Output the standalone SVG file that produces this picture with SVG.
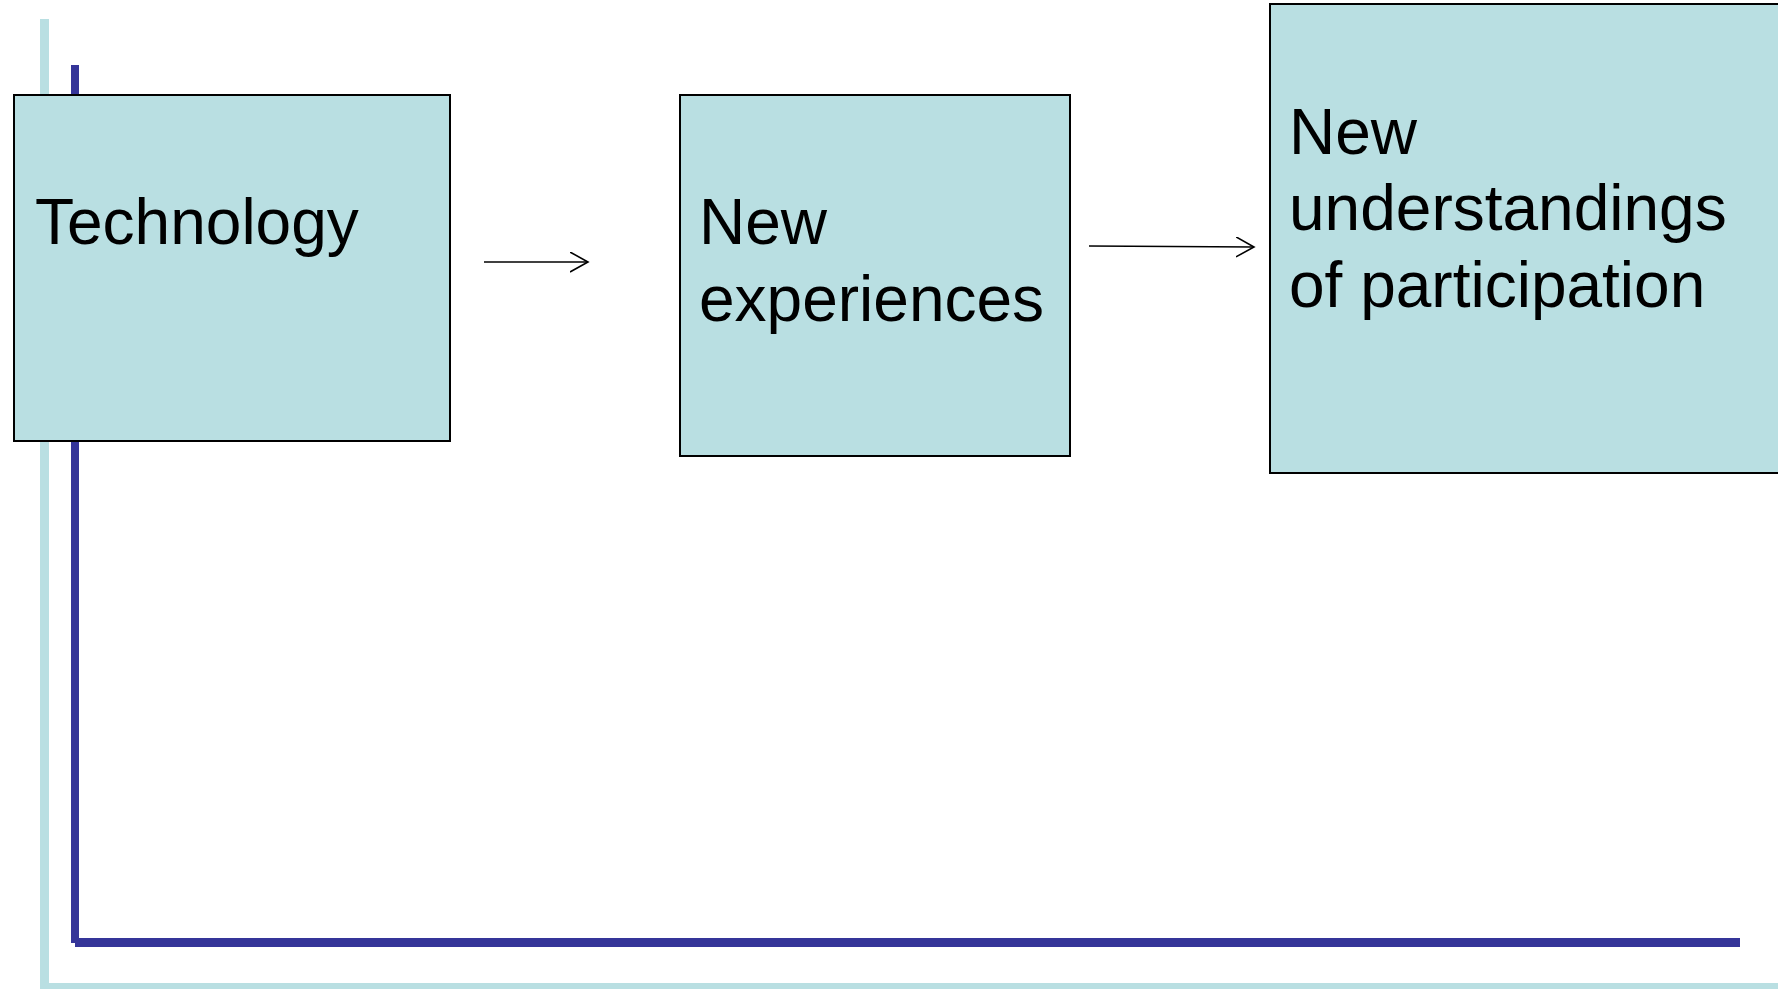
<svg xmlns="http://www.w3.org/2000/svg" width="1778" height="989" viewBox="0 0 1778 989">
<style>
.box{fill:#B9DFE2;stroke:#000;stroke-width:2}
.lbl{font-family:"Liberation Sans",Arial,sans-serif;font-size:64px;fill:#000}
.light{fill:#B9DFE2}
.dark{fill:#353599}
.conn{stroke:#000;stroke-width:1.6;fill:none}
</style>
<defs>
<marker id="arr" markerWidth="20" markerHeight="22" refX="18" refY="10" orient="auto" markerUnits="userSpaceOnUse">
<path d="M0,0 L18,10 L0,20" fill="none" stroke="#000" stroke-width="1.6"/>
</marker>
</defs>
<rect width="1778" height="989" fill="#fff"/>
<g id="frame">
<rect class="light" x="40" y="19" width="9" height="970"/>
<rect class="light" x="43" y="983" width="1735" height="6"/>
<rect class="dark" x="71" y="65" width="8" height="878"/>
<rect class="dark" x="75" y="938" width="1665" height="9"/>
</g>
<g id="node-technology">
<rect class="box" x="14" y="95" width="436" height="346"/>
<text class="lbl" x="35" y="244">Technology</text>
</g>
<g id="node-experiences">
<rect class="box" x="680" y="95" width="390" height="361"/>
<text class="lbl" x="699" y="244">New</text>
<text class="lbl" x="699" y="321">experiences</text>
</g>
<g id="node-understandings">
<rect class="box" x="1270" y="4" width="600" height="469"/>
<text class="lbl" x="1289" y="154">New</text>
<text class="lbl" x="1289" y="230">understandings</text>
<text class="lbl" x="1289" y="307">of participation</text>
</g>
<g id="connectors">
<line class="conn" x1="484" y1="262" x2="588" y2="262" marker-end="url(#arr)"/>
<line class="conn" x1="1089" y1="246" x2="1254" y2="247" marker-end="url(#arr)"/>
</g>
</svg>
